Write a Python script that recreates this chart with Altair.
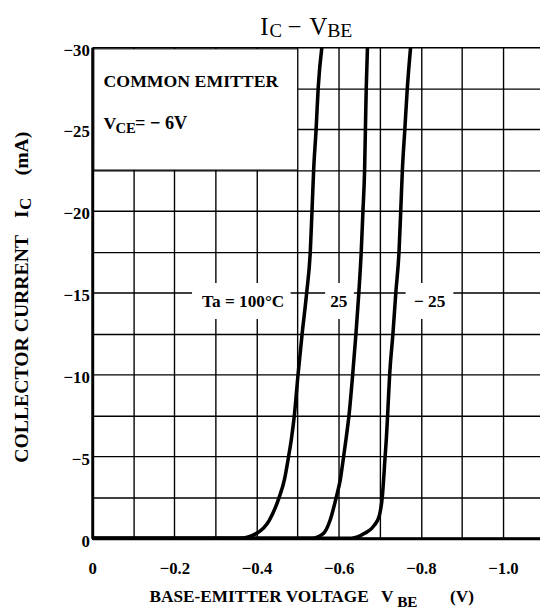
import altair as alt
import pandas as pd

FONT = "Liberation Serif"

# ---- data ----
vbe_100 = [0, -0.359, -0.400, -0.431, -0.455, -0.468, -0.478, -0.485, -0.492, -0.501, -0.511, -0.522, -0.531, -0.535, -0.539, -0.545, -0.550, -0.559]
ic_100 = [0, 0, -0.3, -1.1, -2.5, -3.6, -5.0, -6.1, -7.5, -10.0, -12.5, -15.0, -17.6, -20.0, -22.5, -25.0, -27.5, -30.0]

vbe_25 = [0, -0.535, -0.563, -0.579, -0.594, -0.604, -0.612, -0.618, -0.625, -0.634, -0.642, -0.649, -0.655, -0.659, -0.663, -0.665, -0.667, -0.670]
ic_25 = [0, 0, -0.3, -1.1, -2.5, -3.6, -5.0, -6.1, -7.5, -10.0, -12.5, -15.0, -17.6, -20.0, -22.5, -25.0, -27.5, -30.0]

vbe_m25 = [0, -0.631, -0.663, -0.687, -0.699, -0.706, -0.713, -0.716, -0.719, -0.724, -0.732, -0.739, -0.747, -0.751, -0.755, -0.761, -0.767, -0.775]
ic_m25 = [0, 0, -0.3, -0.8, -1.4, -2.5, -5.0, -6.1, -7.5, -10.0, -12.5, -15.0, -17.6, -20.0, -22.5, -25.0, -27.5, -30.0]

x_ticks = [0, -0.1, -0.2, -0.3, -0.4, -0.5, -0.6, -0.7, -0.8, -0.9, -1.0]
y_ticks = [0, -2.5, -5, -7.5, -10, -12.5, -15, -17.5, -20, -22.5, -25, -27.5, -30]

# white boxes (legend box and label backgrounds)
box_v1 = [-0.004, -0.243, -0.567, -0.763]
box_v2 = [-0.500, -0.483, -0.637, -0.879]
box_i1 = [-29.9, -15.6, -15.6, -15.6]
box_i2 = [-22.5, -13.4, -13.4, -13.4]
box_stroke = [1, 0, 0, 0]

rows = []
for name, vs, cs in [("100", vbe_100, ic_100), ("25", vbe_25, ic_25), ("-25", vbe_m25, ic_m25)]:
    for k, (v, c) in enumerate(zip(vs, cs)):
        rows.append({"ta": name, "k": k, "vbe": v, "ic": c})
curves = pd.DataFrame(rows)

boxes = pd.DataFrame({"v1": box_v1, "v2": box_v2, "i1": box_i1, "i2": box_i2, "sw": box_stroke})

W = 454.5
H = 498.4

xscale = alt.Scale(domain=[-1.09, 0], reverse=True, nice=False, zero=False)
yscale = alt.Scale(domain=[-30, 0], reverse=True, nice=False, zero=False)

xaxis = alt.Axis(
    values=x_ticks, title=None, ticks=False, grid=True, gridColor="black", gridWidth=1.4,
    gridOpacity=1, domainColor="black", domainWidth=3,
    labelExpr="abs(datum.value) < 0.001 ? '0' : (round(abs(datum.value) * 10) % 2 == 0 ? '\u2212' + format(abs(datum.value), '.1f') : '')",
    labelFont=FONT, labelFontSize=17, labelFontWeight="bold", labelColor="black",
    labelPadding=23, labelAlign="center",
)
yaxis = alt.Axis(
    values=y_ticks, title=None, ticks=False, grid=True, gridColor="black", gridWidth=1.4,
    gridOpacity=1, domainColor="black", domainWidth=3,
    labelExpr="abs(datum.value) < 0.001 ? '0' : (round(abs(datum.value) * 2) % 10 == 0 ? '\u2212' + format(abs(datum.value), 'd') : '')",
    labelFont=FONT, labelFontSize=17, labelFontWeight="bold", labelColor="black",
    labelPadding=3, labelAlign="right", labelBaseline="middle", labelOffset=3,
)

lines = alt.Chart(curves).mark_line(color="black", strokeWidth=3.6, interpolate="monotone").encode(
    x=alt.X("vbe:Q", scale=xscale, axis=xaxis),
    y=alt.Y("ic:Q", scale=yscale, axis=yaxis),
    detail="ta:N",
    order="k:O",
)

rects = alt.Chart(boxes).mark_rect(fill="white", stroke="black").encode(
    x=alt.X("v1:Q", scale=xscale),
    x2="v2",
    y=alt.Y("i1:Q", scale=yscale),
    y2="i2",
    strokeWidth=alt.StrokeWidth("sw:Q", scale=None, legend=None),
)

one = pd.DataFrame({"a": [0]})


def txt(s, x, y, size, weight="bold", align="left", angle=0):
    return alt.Chart(one).mark_text(
        text=s, font=FONT, fontSize=size, fontWeight=weight, align=align,
        baseline="alphabetic", angle=angle, color="black",
    ).encode(x=alt.value(x), y=alt.value(y))


texts = [
    # title
    txt("I", 170.5, -12.3, 25, "normal"),
    txt("C", 180.0, -10.0, 19, "normal"),
    txt("\u2212", 205.5, -12.3, 25, "normal", "center"),
    txt("V", 220.5, -12.3, 25, "normal"),
    txt("BE", 238.5, -10.0, 20, "normal"),
    # legend box
    txt("COMMON EMITTER", 11.5, 40.0, 18),
    txt("V", 11.5, 83.4, 18),
    txt("CE", 23.5, 87.0, 15),
    txt("= \u2212 6V", 43.5, 83.4, 18.5),
    # curve labels
    txt("Ta = 100\u00b0C", 111.5, 263.4, 17.5),
    txt("25", 241.5, 263.4, 17.5),
    txt("\u2212 25", 326.5, 263.4, 17.5),
    # x axis title
    txt("BASE-EMITTER VOLTAGE", 58.2, 563.4, 17.5),
    txt("V", 293.2, 563.4, 17.5),
    txt("BE", 309.5, 568.0, 15.5),
    txt("(V)", 363.2, 563.4, 17.5),
    # y axis title
    txt("COLLECTOR CURRENT", -65.2, 421.7, 20, angle=270),
    txt("I", -65.2, 173.4, 20, angle=270),
    txt("C", -62.0, 165.0, 17, angle=270),
    txt("(mA)", -65.2, 130.0, 20, angle=270),
]

chart = alt.layer(lines, rects, *texts).properties(
    width=W, height=H,
    autosize=alt.AutoSizeParams(type="none"),
    padding={"left": 85.5, "top": 35.3, "right": 0, "bottom": 72},
).configure_view(strokeWidth=0).configure(background="white")

chart.save("out.html", embed_options={"renderer": "svg", "actions": False})
